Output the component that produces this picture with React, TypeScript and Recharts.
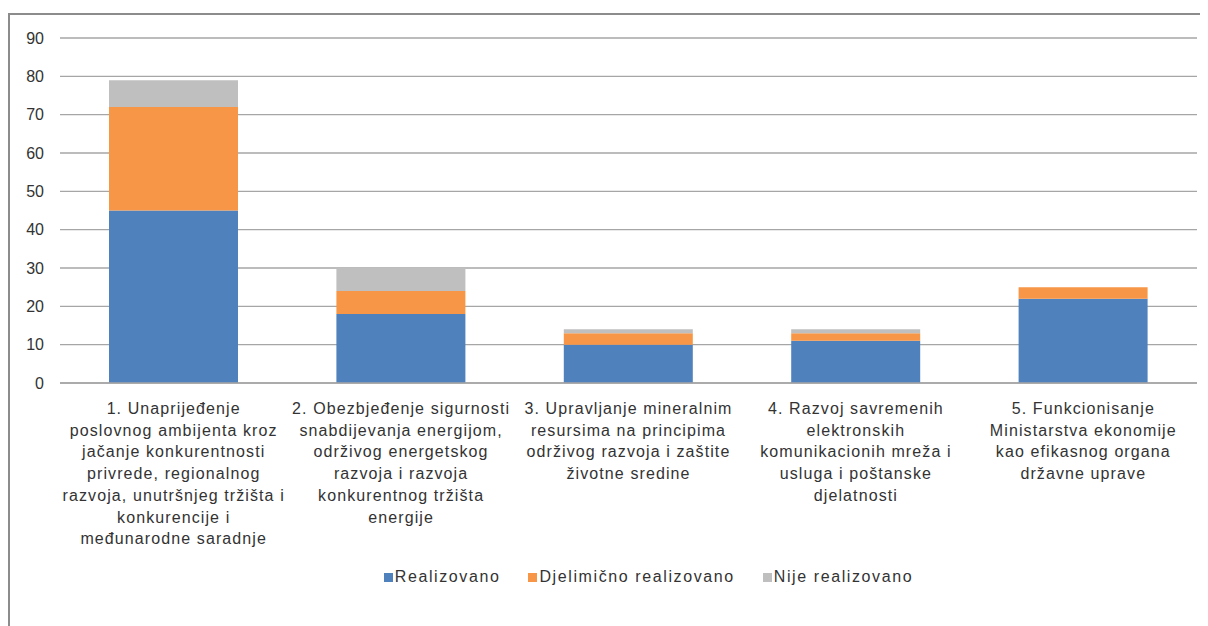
import React from "react";
import { BarChart, Bar, XAxis, YAxis, CartesianGrid, Legend } from "recharts";

const categoryLines: string[][] = [
  ["1. Unaprijeđenje", "poslovnog ambijenta kroz", "jačanje konkurentnosti", "privrede, regionalnog", "razvoja, unutršnjeg tržišta i", "konkurencije i", "međunarodne saradnje"],
  ["2. Obezbjeđenje sigurnosti", "snabdijevanja energijom,", "održivog energetskog", "razvoja i razvoja", "konkurentnog tržišta", "energije"],
  ["3. Upravljanje mineralnim", "resursima na principima", "održivog razvoja i zaštite", "životne sredine"],
  ["4. Razvoj savremenih", "elektronskih", "komunikacionih mreža i", "usluga i poštanske", "djelatnosti"],
  ["5. Funkcionisanje", "Ministarstva ekonomije", "kao efikasnog organa", "državne uprave"],
];
const realizovano = [45, 18, 10, 11, 22];
const djelimicno = [27, 6, 3, 2, 3];
const nije = [7, 6, 1, 1, 0];
const yTicks = [0, 10, 20, 30, 40, 50, 60, 70, 80, 90];

const seriesNames = ["Realizovano", "Djelimično realizovano", "Nije realizovano"];
const colors = ["#4f81bd", "#f79646", "#bfbfbf"];

const data = categoryLines.map((lines, i) => ({
  idx: i,
  r: realizovano[i],
  d: djelimicno[i],
  n: nije[i],
}));

const FONT = "'Liberation Sans', Arial, sans-serif";

const XTick = (props: any) => {
  const { x, y, payload } = props;
  const lines = categoryLines[payload.value] || [];
  return (
    <g>
      {lines.map((l, i) => (
        <text
          key={i}
          x={x}
          y={y + 23 + i * 21.7}
          textAnchor="middle"
          fontSize={16}
          fontFamily={FONT}
          fill="#333"
          style={{ letterSpacing: "1.1px" }}
        >
          {l}
        </text>
      ))}
    </g>
  );
};

const LegendContent = () => (
  <div
    style={{
      display: "flex",
      justifyContent: "center",
      alignItems: "center",
      height: 24,
      fontFamily: FONT,
      fontSize: 16,
      color: "#333",
      letterSpacing: "1.6px",
      paddingLeft: 92,
      boxSizing: "border-box",
    }}
  >
    {seriesNames.map((n, i) => (
      <div key={n} style={{ display: "flex", alignItems: "center", marginRight: i < 2 ? 28 : 0 }}>
        <span style={{ display: "inline-block", width: 9, height: 9, background: colors[i], marginRight: 2 }} />
        <span>{n}</span>
      </div>
    ))}
  </div>
);

export default function App() {
  return (
    <div style={{ position: "relative", width: 1200, height: 618 }}>
      <div
        style={{
          position: "absolute",
          left: 0,
          top: 5,
          width: 1200,
          height: 613,
          borderTop: "2px solid #8c8c8c",
          borderLeft: "2px solid #8c8c8c",
          boxSizing: "border-box",
        }}
      />
      <BarChart
        width={1200}
        height={618}
        data={data}
        margin={{ top: 30, right: 11, left: 0, bottom: 37 }}
        style={{ position: "absolute", left: 0, top: 0 }}
      >
        <CartesianGrid vertical={false} stroke="#a6a6a6" strokeWidth={1.3} />
        <XAxis
          dataKey="idx"
          height={182}
          tick={<XTick />}
          tickLine={false}
          axisLine={{ stroke: "#a6a6a6", strokeWidth: 1.3 }}
          interval={0}
        />
        <YAxis
          domain={[0, 90]}
          ticks={yTicks}
          width={52}
          tickLine={false}
          axisLine={false}
          tickSize={0}
          tickMargin={16}
          tick={{ fontSize: 16, fontFamily: FONT, fill: "#333" }}
        />
        <Legend verticalAlign="bottom" content={<LegendContent />} />
        <Bar dataKey="r" stackId="a" fill={colors[0]} barSize={129} isAnimationActive={false} name={seriesNames[0]} />
        <Bar dataKey="d" stackId="a" fill={colors[1]} barSize={129} isAnimationActive={false} name={seriesNames[1]} />
        <Bar dataKey="n" stackId="a" fill={colors[2]} barSize={129} isAnimationActive={false} name={seriesNames[2]} />
      </BarChart>
    </div>
  );
}
